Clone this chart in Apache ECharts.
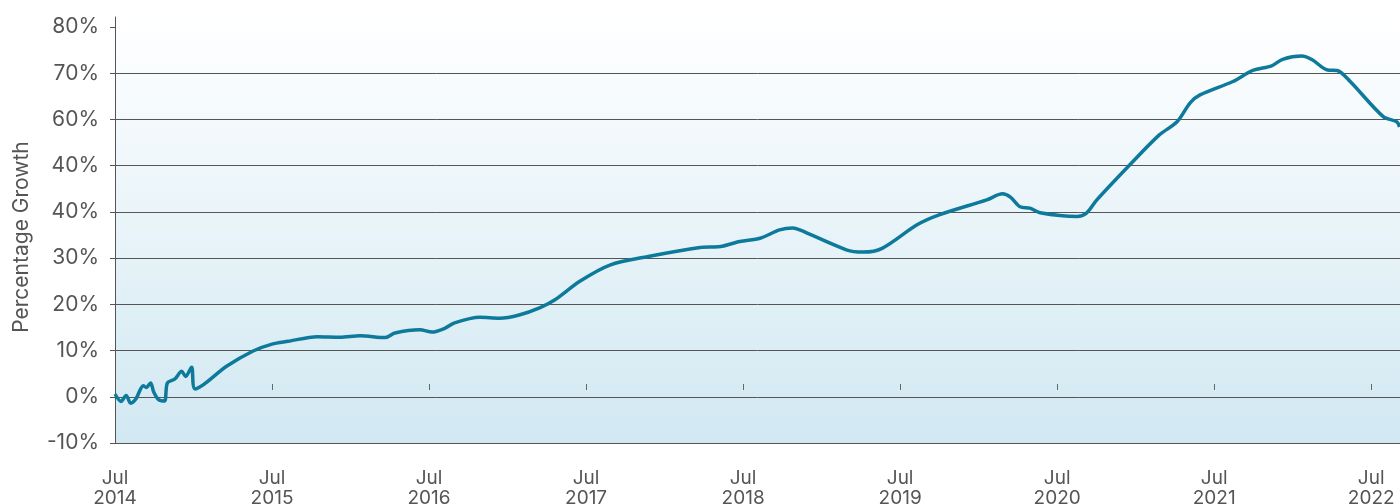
<!DOCTYPE html>
<html>
<head>
<meta charset="utf-8">
<script src="https://cdn.jsdelivr.net/npm/echarts@6/dist/echarts.min.js"></script>
<style>html,body{margin:0;padding:0;background:#fff}#c{width:1400px;height:504px}</style>
</head>
<body>
<div id="c"></div>
<script>
const dates = ['2014-07-01','2014-07-15','2014-07-27','2014-08-07','2014-08-19','2014-09-06','2014-09-13','2014-09-23','2014-09-30','2014-10-11','2014-10-25','2014-11-01','2014-11-18','2014-12-04','2014-12-13','2014-12-27','2015-01-05','2015-03-17','2015-05-18','2015-07-01','2015-08-08','2015-10-15','2015-12-07','2016-01-23','2016-03-21','2016-04-13','2016-06-10','2016-07-08','2016-08-07','2016-08-30','2016-10-28','2016-12-13','2017-01-28','2017-03-16','2017-04-20','2017-06-17','2017-08-26','2017-11-27','2018-03-23','2018-05-09','2018-06-24','2018-08-10','2018-09-25','2018-10-25','2018-11-11','2019-02-28','2019-04-06','2019-05-20','2019-08-10','2019-10-02','2020-01-20','2020-02-26','2020-03-14','2020-04-06','2020-04-29','2020-05-22','2020-08-17','2020-09-09','2020-10-02','2020-12-18','2021-02-25','2021-04-06','2021-05-06','2021-05-29','2021-08-14','2021-09-30','2021-11-13','2021-12-08','2022-01-22','2022-02-16','2022-03-21','2022-04-13','2022-05-13','2022-07-29','2022-08-30','2022-09-06'];
const growth = [0.6,-1.0,0.3,-1.4,-0.5,2.4,2.0,3.0,1.1,-0.6,-0.9,3.0,3.8,5.5,4.4,6.4,1.7,6.6,9.9,11.4,12.0,13.0,12.9,13.2,12.8,13.8,14.5,14.0,14.8,16.0,17.2,17.0,17.7,19.3,21.0,25.0,28.5,30.4,32.3,32.5,33.6,34.3,36.1,36.5,36.1,31.8,31.3,32.1,37.2,39.4,42.6,43.9,43.2,41.1,40.8,39.8,39.0,39.8,42.6,50.2,56.6,59.5,63.6,65.3,68.2,70.6,71.6,73.0,73.7,72.9,70.7,70.6,68.2,60.6,59.5,58.4];
const yTickValues = [-10,0,10,20,30,40,50,60,70,80];
const yTickLabels = ['-10%','0%','10%','20%','30%','40%','40%','60%','70%','80%'];
const xTickYears = [2014,2015,2016,2017,2018,2019,2020,2021,2022];
const xTickMonth = 'Jul';
const yName = 'Percentage Growth';

function toMonths(s){const p=s.split('-').map(Number);return (p[0]-2014)*12+(p[1]-7)+(p[2]-1)/30.5;}
const seriesData = dates.map((d,i)=>[toMonths(d), growth[i]]);
const xTickValues = xTickYears.map(y=>(y-2014)*12);

const font = 'Inter';
const txt = '#555';
const chart = echarts.init(document.getElementById('c'), null, {renderer:'canvas'});
chart.setOption({
  animation:false,
  grid:{left:115,right:0,top:17,bottom:61,show:true,borderWidth:0,outerBoundsMode:'none',containLabel:false,
    backgroundColor:new echarts.graphic.LinearGradient(0,0,0,1,[{offset:0,color:'#ffffff'},{offset:1,color:'#d1e8f2'}])},
  xAxis:[{
    type:'value',min:0,max:98.2,interval:12,position:'bottom',
    axisLine:{show:true,onZero:false,lineStyle:{color:'#555',width:1}},
    axisTick:{show:false},splitLine:{show:false},
    axisLabel:{customValues:xTickValues,margin:25,color:txt,fontFamily:font,fontSize:19,lineHeight:20,
      formatter:v=>{const i=xTickValues.indexOf(Math.round(v));return i<0?'':xTickMonth+'\n'+xTickYears[i];}}
  },{
    type:'value',min:0,max:98.2,interval:12,position:'top',
    axisLine:{show:false,onZero:true,onZeroAxisIndex:1},
    axisTick:{show:true,customValues:xTickValues.slice(1),length:6,lineStyle:{color:'#666',width:1}},
    axisLabel:{show:false},splitLine:{show:false}
  }],
  yAxis:[{
    type:'value',min:-10,max:82.16,interval:10,position:'left',
    name:yName,nameLocation:'middle',nameGap:83,
    nameTextStyle:{color:txt,fontFamily:font,fontSize:21,padding:[0,14,0,0]},
    axisLine:{show:true,onZero:false,lineStyle:{color:'#555',width:1}},
    axisTick:{show:true,customValues:yTickValues,length:5,lineStyle:{color:'#555'}},
    splitLine:{show:true,showMaxLine:false,lineStyle:{color:'#555',width:1}},
    axisLabel:{customValues:yTickValues,margin:16,color:txt,fontFamily:font,fontSize:21,
      formatter:v=>{const i=yTickValues.indexOf(Math.round(v));return i<0?'':yTickLabels[i];}}
  },{
    type:'value',min:-1.244,max:8.756,show:false
  }],
  series:[{
    type:'line',data:seriesData,xAxisIndex:0,yAxisIndex:0,showSymbol:false,smooth:0.3,
    lineStyle:{color:'#0d7a9b',width:3.5},z:5
  }]
});
</script>
</body>
</html>
